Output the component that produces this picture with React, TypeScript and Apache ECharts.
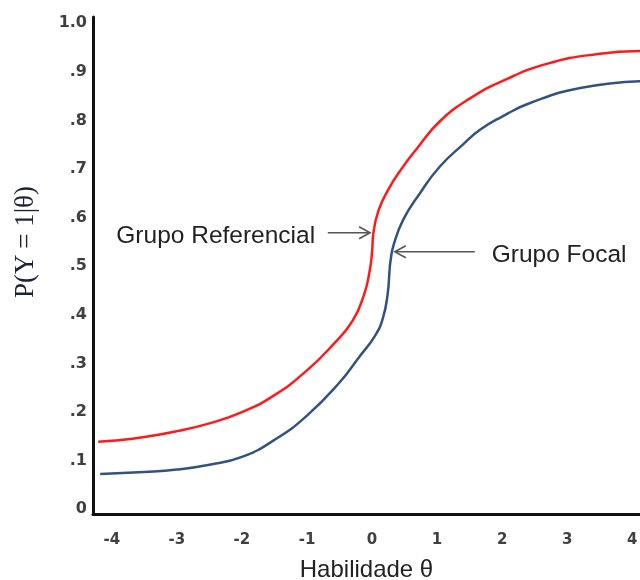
import React, { useEffect, useRef } from "react";
import * as echarts from "echarts";

// Axis ticks
const thetaTicks = [-4, -3, -2, -1, 0, 1, 2, 3, 4];
const probTicks = [0, 0.1, 0.2, 0.3, 0.4, 0.5, 0.6, 0.7, 0.8, 0.9, 1.0];
const probTickLabels = ["0", ".1", ".2", ".3", ".4", ".5", ".6", ".7", ".8", ".9", "1.0"];

// Grupo Referencial (red)
const thetaRef = [-4.21, -4.0, -3.5, -3.0, -2.5, -2.0, -1.5, -1.0, -0.6, -0.3, -0.12, -0.04, 0.0, 0.02, 0.1, 0.25, 0.45, 0.7, 1.04, 1.5, 2.0, 2.7, 3.47, 4.12];
const probRef = [0.136, 0.138, 0.146, 0.158, 0.174, 0.197, 0.232, 0.283, 0.336, 0.385, 0.44, 0.485, 0.525, 0.565, 0.612, 0.655, 0.697, 0.741, 0.795, 0.842, 0.878, 0.914, 0.934, 0.94];

// Grupo Focal (blue)
const thetaFocal = [-4.18, -3.5, -3.0, -2.5, -2.0, -1.5, -1.0, -0.5, -0.2, 0.05, 0.17, 0.24, 0.27, 0.28, 0.33, 0.48, 0.74, 1.04, 1.4, 1.66, 2.0, 2.43, 3.2, 4.12];
const probFocal = [0.07, 0.074, 0.079, 0.089, 0.105, 0.14, 0.19, 0.258, 0.31, 0.355, 0.392, 0.44, 0.49, 0.504, 0.54, 0.593, 0.648, 0.702, 0.748, 0.778, 0.805, 0.833, 0.864, 0.878];

// Annotations (data coordinates)
const labelRef = "Grupo Referencial";
const labelFocal = "Grupo Focal";
const refArrowTail = [-0.68, 0.566];
const refArrowTip = [-0.03, 0.566];
const refLabelAnchor = [-0.875, 0.562];
const focalArrowTail = [1.58, 0.527];
const focalArrowTip = [0.35, 0.527];
const focalLabelAnchor = [1.84, 0.524];

const xName = "Habilidade θ";
const yName = "P(Υ = 1|θ)";

export default function App() {
  const ref = useRef<HTMLDivElement>(null);
  useEffect(() => {
    const chart = echarts.init(ref.current!, null, { renderer: "svg" });
    chart.setOption({
      animation: false,
      grid: { left: 93, right: 0, top: 17, bottom: 66, containLabel: false, outerBoundsMode: "none" },
      xAxis: {
        type: "value",
        min: -4.29,
        max: 4.12,
        name: xName,
        nameLocation: "middle",
        nameGap: 54,
        nameTextStyle: {
          fontFamily: "Liberation Sans",
          fontSize: 24,
          color: "#222",
          verticalAlign: "middle",
        },
        axisLine: { show: true, onZero: false, lineStyle: { color: "#111", width: 3 } },
        axisTick: { show: false },
        splitLine: { show: false },
        axisLabel: {
          customValues: thetaTicks,
          formatter: (v: number) => String(v),
          fontFamily: "DejaVu Sans",
          fontWeight: "bold",
          fontSize: 15,
          color: "#404040",
          margin: 17,
        },
      },
      yAxis: {
        type: "value",
        min: -0.0125,
        max: 1.01,
        axisLine: { show: true, onZero: false, lineStyle: { color: "#111", width: 3 } },
        axisTick: { show: false },
        splitLine: { show: false },
        axisLabel: {
          customValues: probTicks,
          formatter: (v: number) => probTickLabels[Math.round(v * 10)],
          fontFamily: "DejaVu Sans",
          fontWeight: "bold",
          fontSize: 16,
          color: "#404040",
          margin: 6,
        },
      },
      series: [
        {
          type: "line",
          name: labelRef,
          data: thetaRef.map((t, i) => [t, probRef[i]]),
          showSymbol: false,
          smooth: 0.5,
          lineStyle: { color: "#ff1a1a", width: 2.5 },
          itemStyle: { color: "#ff1a1a" },
        },
        {
          type: "line",
          name: labelFocal,
          data: thetaFocal.map((t, i) => [t, probFocal[i]]),
          showSymbol: false,
          smooth: 0.5,
          lineStyle: { color: "#34527f", width: 2.5 },
          itemStyle: { color: "#34527f" },
        },
      ],
    });

    const px = (v: number[]) => chart.convertToPixel({ gridIndex: 0 }, v) as number[];
    const rTail = px(refArrowTail);
    const rTip = px(refArrowTip);
    const rLab = px(refLabelAnchor);
    const fTail = px(focalArrowTail);
    const fTip = px(focalArrowTip);
    const fLab = px(focalLabelAnchor);
    const arrowStyle = { stroke: "#555", lineWidth: 1.6, fill: null };
    const textStyleBase = { fontFamily: "Liberation Sans", fontSize: 24.5, fill: "#222" };

    chart.setOption({
      graphic: [
        { type: "line", shape: { x1: rTail[0], y1: rTail[1], x2: rTip[0] - 1, y2: rTip[1] }, style: arrowStyle },
        {
          type: "polyline",
          shape: { points: [[rTip[0] - 11, rTip[1] - 6], [rTip[0], rTip[1]], [rTip[0] - 11, rTip[1] + 6]] },
          style: arrowStyle,
        },
        { type: "line", shape: { x1: fTail[0], y1: fTail[1], x2: fTip[0] + 1, y2: fTip[1] }, style: arrowStyle },
        {
          type: "polyline",
          shape: { points: [[fTip[0] + 11, fTip[1] - 6], [fTip[0], fTip[1]], [fTip[0] + 11, fTip[1] + 6]] },
          style: arrowStyle,
        },
        {
          type: "text",
          x: rLab[0],
          y: rLab[1],
          style: { ...textStyleBase, text: labelRef, align: "right", verticalAlign: "middle" },
        },
        {
          type: "text",
          x: fLab[0],
          y: fLab[1],
          style: { ...textStyleBase, text: labelFocal, align: "left", verticalAlign: "middle" },
        },
        {
          type: "text",
          x: 24,
          y: 242,
          rotation: Math.PI / 2,
          style: {
            text: yName,
            fontFamily: "Liberation Serif",
            fontSize: 27,
            fill: "#1c2238",
            align: "center",
            verticalAlign: "middle",
          },
        },
      ],
    });

    return () => chart.dispose();
  }, []);
  return <div ref={ref} style={{ position: "fixed", left: 0, top: 0, width: 640, height: 580 }} />;
}
